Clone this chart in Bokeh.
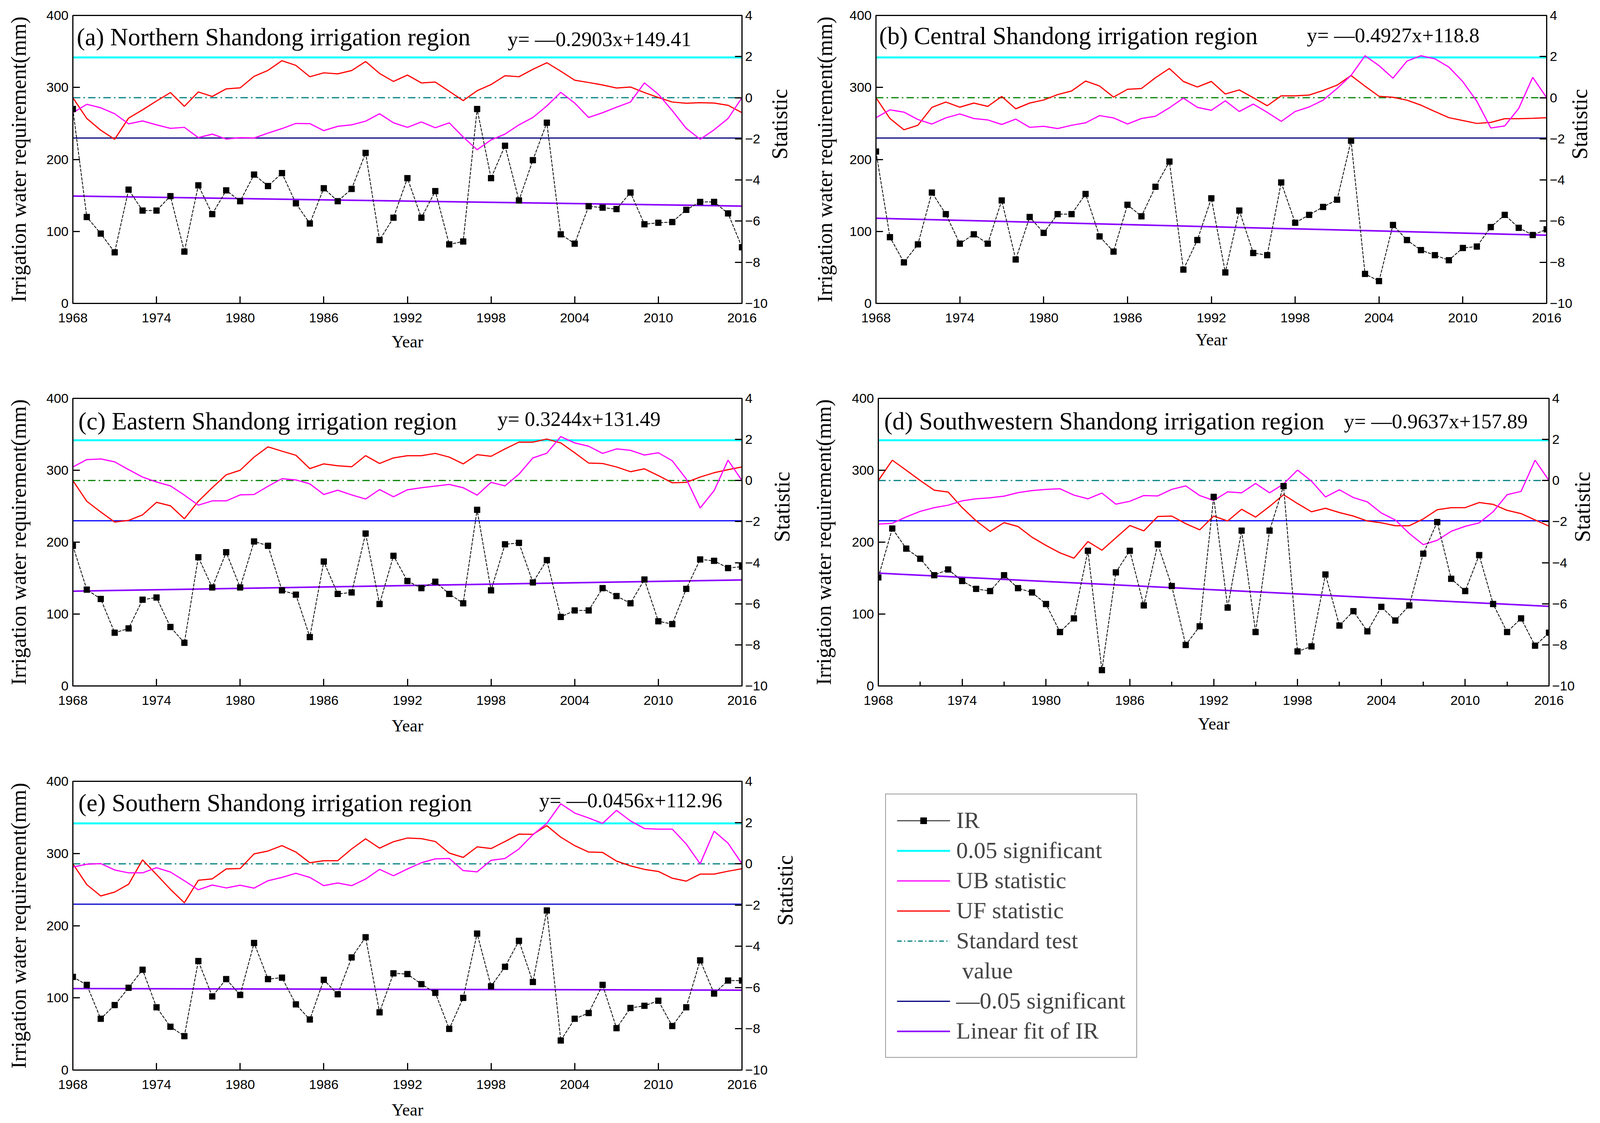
import math
from bokeh.plotting import figure
from bokeh.models import Range1d, LinearAxis, FixedTicker, Label, Legend, LegendItem
from bokeh.layouts import column, row
from bokeh.embed import file_html
from bokeh.resources import INLINE

# ---------------- data ----------------
years = list(range(1968, 2017))
x_ticks = [1968, 1974, 1980, 1986, 1992, 1998, 2004, 2010, 2016]
x_minor_ticks_d = [1971, 1977, 1983, 1989, 1995, 2001, 2007, 2013]
ir_ticks = [0, 100, 200, 300, 400]
stat_ticks = [-10, -8, -6, -4, -2, 0, 2, 4]
fit_years = [1968, 2016]
sig_upper = 1.96
sig_lower = -1.96
standard_value = 0.0

a_ir = [270, 120, 97, 71, 158, 129, 129, 149, 72, 164, 124, 157, 142, 179, 163, 181, 139, 111, 160, 142,
        159, 209, 88, 119, 174, 119, 156, 82, 86, 270, 174, 219, 143, 199, 251, 96, 83, 135, 133, 131,
        154, 110, 112, 113, 130, 141, 141, 125, 78]
a_uf = [0.0, -1.01, -1.58, -2.02, -0.99, -0.59, -0.16, 0.25, -0.42, 0.28, 0.06, 0.43, 0.48, 1.04, 1.33,
        1.80, 1.57, 1.02, 1.21, 1.16, 1.32, 1.76, 1.18, 0.79, 1.10, 0.72, 0.76, 0.31, -0.14, 0.34, 0.64,
        1.07, 1.02, 1.38, 1.70, 1.29, 0.85, 0.74, 0.62, 0.47, 0.52, 0.25, 0.01, -0.21, -0.27, -0.24,
        -0.26, -0.37, -0.73]
a_ub = [-0.73, -0.32, -0.49, -0.78, -1.27, -1.13, -1.32, -1.49, -1.44, -1.94, -1.77, -2.01, -1.94, -1.96,
        -1.72, -1.50, -1.25, -1.26, -1.60, -1.39, -1.32, -1.14, -0.78, -1.22, -1.44, -1.18, -1.46, -1.22,
        -1.91, -2.53, -2.05, -1.77, -1.32, -0.96, -0.40, 0.26, -0.26, -0.96, -0.73, -0.46, -0.21, 0.72,
        0.17, -0.63, -1.49, -2.02, -1.56, -1.01, 0.0]
a_fit = [149.1, 135.2]

b_ir = [211, 92, 57, 82, 154, 124, 83, 96, 83, 143, 61, 120, 98, 124, 124, 152, 93, 72, 137, 121,
        162, 197, 47, 88, 146, 43, 129, 70, 67, 168, 112, 123, 134, 144, 226, 41, 31, 109, 88, 74,
        67, 60, 77, 79, 106, 123, 105, 95, 103]
b_uf = [0.0, -1.01, -1.56, -1.34, -0.47, -0.21, -0.46, -0.26, -0.42, 0.06, -0.54, -0.26, -0.11, 0.15, 0.33,
        0.81, 0.57, 0.03, 0.41, 0.45, 0.97, 1.42, 0.79, 0.52, 0.79, 0.18, 0.38, 0.0, -0.39, 0.09, 0.09,
        0.13, 0.35, 0.61, 1.08, 0.56, 0.07, 0.02, -0.12, -0.36, -0.67, -0.97, -1.11, -1.25, -1.20, -1.02,
        -1.02, -1.00, -0.97]
b_ub = [-0.97, -0.59, -0.70, -1.06, -1.28, -0.98, -0.79, -1.01, -1.08, -1.30, -1.04, -1.44, -1.39, -1.50,
        -1.34, -1.22, -0.87, -0.98, -1.28, -1.01, -0.90, -0.49, -0.02, -0.47, -0.61, -0.15, -0.67, -0.31,
        -0.71, -1.15, -0.67, -0.45, -0.12, 0.45, 1.08, 2.04, 1.56, 0.95, 1.78, 2.04, 1.89, 1.49, 0.78,
        -0.17, -1.47, -1.37, -0.52, 0.99, 0.0]
b_fit = [118.3, 94.7]

c_ir = [195, 134, 121, 74, 80, 120, 123, 82, 60, 179, 137, 186, 137, 201, 195, 133, 127, 68, 173, 128,
        130, 212, 114, 181, 146, 136, 145, 128, 115, 245, 133, 197, 199, 144, 175, 96, 105, 105, 136, 125,
        115, 148, 90, 86, 135, 176, 174, 164, 166]
c_uf = [0.0, -1.01, -1.53, -2.02, -1.94, -1.67, -1.06, -1.23, -1.86, -1.01, -0.35, 0.28, 0.50, 1.14, 1.64,
        1.43, 1.23, 0.58, 0.81, 0.72, 0.67, 1.21, 0.83, 1.10, 1.21, 1.21, 1.32, 1.14, 0.81, 1.26, 1.18,
        1.54, 1.87, 1.87, 2.02, 1.83, 1.35, 0.85, 0.83, 0.66, 0.43, 0.57, 0.24, -0.11, -0.09, 0.17, 0.38,
        0.53, 0.66]
c_ub = [0.66, 1.02, 1.05, 0.91, 0.53, 0.17, -0.07, -0.26, -0.71, -1.20, -0.99, -0.99, -0.70, -0.68, -0.28,
        0.09, 0.03, -0.16, -0.68, -0.47, -0.70, -0.90, -0.44, -0.79, -0.45, -0.35, -0.27, -0.19, -0.35,
        -0.71, -0.09, -0.26, 0.31, 1.10, 1.33, 2.14, 1.83, 1.67, 1.32, 1.54, 1.47, 1.24, 1.35, 0.96, 0.08,
        -1.34, -0.49, 0.99, 0.0]
c_fit = [131.8, 147.4]

d_ir = [151, 219, 191, 177, 154, 162, 146, 135, 132, 154, 136, 130, 114, 75, 94, 188, 22, 158, 188, 112,
        197, 139, 57, 83, 263, 109, 216, 75, 216, 278, 48, 55, 155, 84, 104, 76, 110, 91, 112, 184,
        228, 149, 132, 182, 114, 75, 94, 56, 74]
d_uf = [0.0, 0.99, 0.50, 0.0, -0.47, -0.56, -1.32, -1.96, -2.48, -2.05, -2.24, -2.76, -3.16, -3.52, -3.78,
        -2.97, -3.39, -2.79, -2.19, -2.45, -1.75, -1.73, -2.10, -2.40, -1.73, -1.97, -1.40, -1.78, -1.26,
        -0.69, -1.12, -1.52, -1.35, -1.56, -1.73, -1.97, -2.06, -2.20, -2.20, -1.87, -1.42, -1.32, -1.32,
        -1.07, -1.16, -1.45, -1.61, -1.92, -2.22]
d_ub = [-2.12, -2.08, -1.77, -1.50, -1.32, -1.20, -0.99, -0.89, -0.84, -0.76, -0.59, -0.49, -0.43, -0.40,
        -0.71, -0.89, -0.61, -1.15, -1.01, -0.73, -0.75, -0.43, -0.26, -0.73, -0.97, -0.55, -0.60, -0.14,
        -0.60, -0.17, 0.51, -0.03, -0.80, -0.45, -0.83, -1.04, -1.58, -1.92, -2.58, -3.12, -2.91, -2.47,
        -2.23, -2.06, -1.52, -0.69, -0.53, 0.99, 0.0]
d_fit = [156.9, 110.7]

e_ir = [129, 118, 71, 90, 114, 139, 87, 60, 47, 151, 102, 126, 104, 176, 126, 128, 91, 70, 125, 105,
        156, 184, 80, 134, 133, 119, 107, 57, 100, 189, 116, 143, 179, 122, 221, 41, 71, 79, 118, 58,
        86, 89, 96, 61, 87, 152, 106, 124, 124]
e_uf = [0.0, -1.01, -1.56, -1.37, -0.99, 0.19, -0.52, -1.24, -1.89, -0.80, -0.73, -0.25, -0.23, 0.48, 0.62,
        0.88, 0.57, 0.05, 0.15, 0.15, 0.72, 1.21, 0.76, 1.07, 1.25, 1.22, 1.08, 0.52, 0.31, 0.82, 0.74,
        1.08, 1.44, 1.43, 1.85, 1.29, 0.88, 0.57, 0.55, 0.13, -0.10, -0.27, -0.37, -0.70, -0.84, -0.50,
        -0.50, -0.36, -0.24]
e_ub = [-0.16, -0.02, 0.01, -0.30, -0.44, -0.44, -0.19, -0.40, -0.82, -1.26, -1.03, -1.17, -1.04, -1.18,
        -0.82, -0.66, -0.46, -0.66, -1.06, -0.93, -1.06, -0.74, -0.27, -0.58, -0.25, 0.05, 0.24, 0.26,
        -0.33, -0.39, 0.17, 0.26, 0.72, 1.41, 1.96, 2.91, 2.46, 2.22, 1.96, 2.59, 2.08, 1.71, 1.68, 1.68,
        0.96, 0.0, 1.58, 1.00, 0.0]
e_fit = [112.9, 110.7]

titles = ["(a) Northern Shandong irrigation region", "(b) Central Shandong irrigation region",
          "(c) Eastern Shandong irrigation region", "(d) Southwestern Shandong irrigation region",
          "(e) Southern Shandong irrigation region"]
equations = ["y= \u20140.2903x+149.41", "y= \u20140.4927x+118.8", "y= 0.3244x+131.49",
             "y= \u20140.9637x+157.89", "y= \u20140.0456x+112.96"]
y_label = "Irrigation water requirement(mm)"
y2_label = "Statistic"
x_label = "Year"
legend_labels = ["IR", "0.05 significant", "UB statistic", "UF statistic", "Standard test",
                 "\u00a0value", "\u20140.05 significant", "Linear fit of IR"]
no_data = [float("nan")]

# ---------------- layout / style (CSS px) ----------------
COLS = [dict(bl=186, fw=1713, br=153), dict(bl=181, fw=1717, br=130)]
ROWS = [dict(bt=39, fh=737, bb=206), dict(bt=37, fh=736, bb=207), dict(bt=37, fh=739, bb=120)]
SERIF = "Liberation Serif"
SANS = "Liberation Sans"
CYAN = "#00FFFF"
MAGENTA = "#FF00FF"
RED = "#FF0000"
PURPLE = "#8A00FF"
TEAL = "#008080"
GREEN = "#008000"
NAVY = "#000080"
BLUE = "#0000FF"
HAS_ORIENT = "axis_label_orientation" in LinearAxis.properties()


def make_panel(i, ir, uf, ub, fit, ci, ri, dash_color, low_color, title_pos, eq_pos,
               ylab_sd, stat_sd, year_sd, minor=False):
    c = COLS[ci]
    r = ROWS[ri]
    fw, fh = c["fw"], r["fh"]
    p = figure(frame_width=fw, frame_height=fh,
               min_border_left=c["bl"], min_border_right=c["br"],
               min_border_top=r["bt"], min_border_bottom=r["bb"],
               x_range=Range1d(1968, 2016), y_range=Range1d(0, 400),
               output_backend="svg", toolbar_location=None,
               background_fill_color="white", border_fill_color="white")
    p.extra_y_ranges = {"stat": Range1d(-10, 4)}
    p.grid.visible = False
    p.outline_line_color = "black"
    p.outline_line_width = 3

    p.xaxis.ticker = FixedTicker(ticks=x_ticks, minor_ticks=x_minor_ticks_d if minor else [])
    p.yaxis.ticker = FixedTicker(ticks=ir_ticks)
    ax2 = LinearAxis(y_range_name="stat", ticker=FixedTicker(ticks=stat_ticks))
    p.add_layout(ax2, "right")

    for ax in p.axis:
        ax.axis_line_width = 3
        ax.axis_line_color = "black"
        ax.major_tick_line_width = 3
        ax.major_tick_line_color = "black"
        ax.major_tick_in = 18
        ax.major_tick_out = 0
        ax.minor_tick_in = 11
        ax.minor_tick_out = 0
        ax.minor_tick_line_width = 3
        ax.minor_tick_line_color = "black" if minor else None
        ax.major_label_text_font = SANS
        ax.major_label_text_font_size = "34px"
        ax.major_label_text_color = "black"
        ax.axis_label_text_font = SERIF
        ax.axis_label_text_font_style = "normal"
        ax.axis_label_text_color = "black"
    p.xaxis.major_label_standoff = 25
    p.yaxis.major_label_standoff = 11
    ax2.major_label_standoff = 8
    ax2.minor_tick_line_color = None
    p.yaxis.minor_tick_line_color = None

    p.xaxis.axis_label = x_label
    p.xaxis.axis_label_text_font_size = "44px"
    p.xaxis.axis_label_standoff = year_sd
    p.yaxis.axis_label = y_label
    p.yaxis.axis_label_text_font_size = "54px"
    p.yaxis.axis_label_standoff = ylab_sd
    ax2.axis_label = y2_label
    ax2.axis_label_text_font_size = "56px"
    ax2.axis_label_standoff = stat_sd
    if HAS_ORIENT:
        ax2.axis_label_orientation = math.pi / 2

    # reference lines
    p.line(fit_years, [sig_upper, sig_upper], y_range_name="stat", color=CYAN, line_width=5)
    p.line(fit_years, [standard_value, standard_value], y_range_name="stat", color=dash_color,
           line_width=3, line_dash="19 8 4 8")
    p.line(fit_years, [sig_lower, sig_lower], y_range_name="stat", color=low_color, line_width=3)
    # statistics
    p.line(years, uf, y_range_name="stat", color=RED, line_width=3)
    p.line(years, ub, y_range_name="stat", color=MAGENTA, line_width=3)
    # IR
    p.line(fit_years, fit, color=PURPLE, line_width=4)
    p.line(years, ir, color="black", line_width=2, line_dash="8 3")
    p.scatter(years, ir, marker="square", size=15, color="black")

    p.add_layout(Label(x=title_pos[0], y=fh - title_pos[1], x_units="screen", y_units="screen",
                       text=titles[i], text_font=SERIF, text_font_size="63px",
                       text_baseline="alphabetic", text_color="black"))
    p.add_layout(Label(x=eq_pos[0], y=fh - eq_pos[1], x_units="screen", y_units="screen",
                       text=equations[i], text_font=SERIF, text_font_size="53px",
                       text_baseline="alphabetic", text_color="black"))
    return p


pa = make_panel(0, a_ir, a_uf, a_ub, a_fit, 0, 0, TEAL, NAVY, (10, 55), (1113, 60), 38, 28, 22)
pb = make_panel(1, b_ir, b_uf, b_ub, b_fit, 1, 0, GREEN, NAVY, (8, 52), (1103, 50), 30, 16, 17)
pc = make_panel(2, c_ir, c_uf, c_ub, c_fit, 0, 1, GREEN, BLUE, (14, 58), (1087, 52), 38, 34, 26)
pd = make_panel(3, d_ir, d_uf, d_ub, d_fit, 1, 1, TEAL, BLUE, (15, 58), (1192, 58), 39, 17, 21, minor=True)
pe = make_panel(4, e_ir, e_uf, e_ub, e_fit, 0, 2, TEAL, "#0000CD", (14, 55), (1194, 48), 38, 42, 26)

# ---------------- legend figure ----------------
lw = 2018
lh = ROWS[2]["bt"] + ROWS[2]["fh"] + ROWS[2]["bb"]
pl = figure(width=lw, height=lh, min_border=0, title=None, x_range=Range1d(0, 1), y_range=Range1d(0, 1),
            x_axis_location=None, y_axis_location=None, output_backend="svg", toolbar_location=None,
            background_fill_color="white", border_fill_color="white")
pl.outline_line_color = None
pl.grid.visible = False
r_ir_l = pl.line(no_data, no_data, color="black", line_width=2)
r_ir_m = pl.scatter(no_data, no_data, marker="square", size=15, color="black")
r_cy = pl.line(no_data, no_data, color=CYAN, line_width=5)
r_ub = pl.line(no_data, no_data, color=MAGENTA, line_width=3)
r_uf = pl.line(no_data, no_data, color=RED, line_width=3)
r_st = pl.line(no_data, no_data, color=TEAL, line_width=3, line_dash="12 6 3 6")
r_none = pl.line(no_data, no_data, color="white", line_alpha=0)
r_lo = pl.line(no_data, no_data, color=NAVY, line_width=3)
r_fit = pl.line(no_data, no_data, color=PURPLE, line_width=4)
items = [LegendItem(label=legend_labels[0], renderers=[r_ir_l, r_ir_m]),
         LegendItem(label=legend_labels[1], renderers=[r_cy]),
         LegendItem(label=legend_labels[2], renderers=[r_ub]),
         LegendItem(label=legend_labels[3], renderers=[r_uf]),
         LegendItem(label=legend_labels[4], renderers=[r_st]),
         LegendItem(label=legend_labels[5], renderers=[r_none]),
         LegendItem(label=legend_labels[6], renderers=[r_lo]),
         LegendItem(label=legend_labels[7], renderers=[r_fit])]
leg = Legend(items=items, location=(191, 22), label_text_font=SERIF, label_text_font_size="60px",
             label_height=77, glyph_height=40, glyph_width=136, label_standoff=16, spacing=0,
             padding=28, margin=0, border_line_color="#333333", border_line_width=2,
             background_fill_color="white", background_fill_alpha=1.0)
pl.add_layout(leg)

layout = column(row(pa, pb), row(pc, pd), row(pe, pl))
open("out.html", "w").write(file_html(layout, INLINE))
